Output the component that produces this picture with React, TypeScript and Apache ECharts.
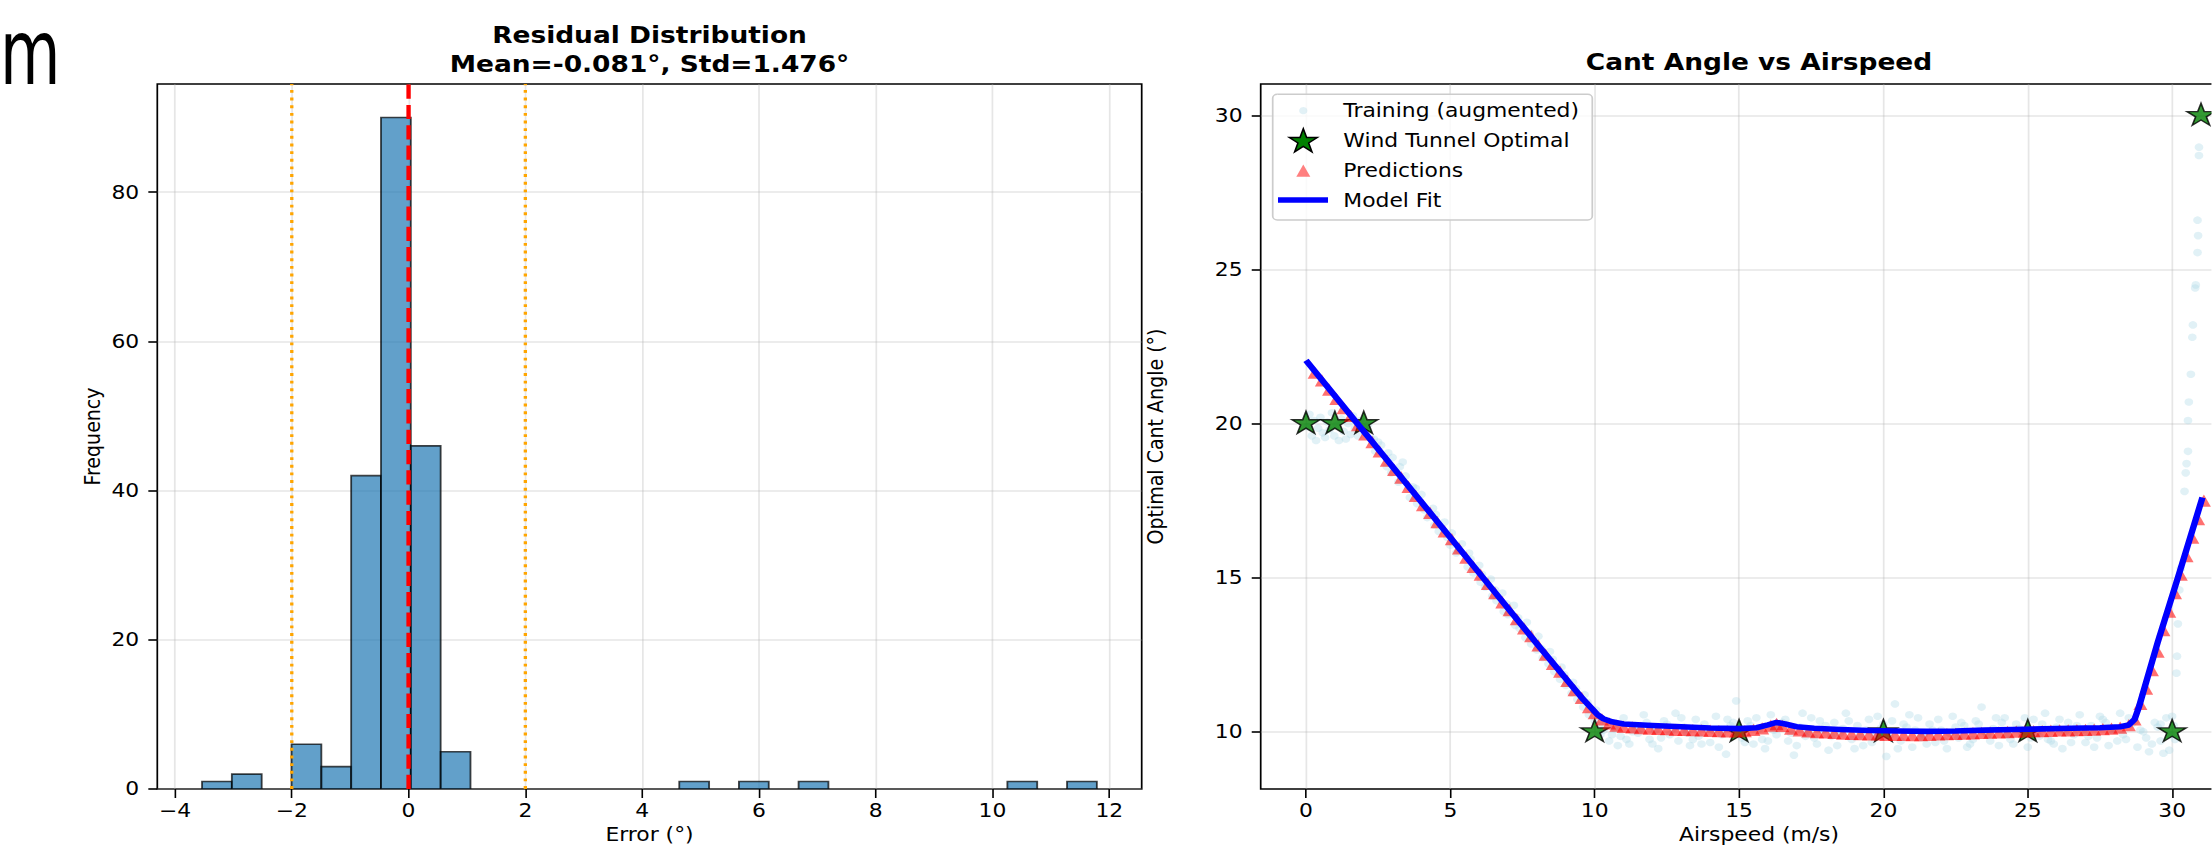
import React, { useEffect, useRef } from 'react';
import * as echarts from 'echarts';

// ---------- layout (reference is stretched horizontally) ----------
const SX = 1.15;
const W = 2212;
const H = 861;
const IW = W / SX;
const ix = (v: number) => v / SX;

// ---------- left panel: residual histogram ----------
const histBinStart = -3.537;
const histBinWidth = 0.5108;
const histCounts = [1, 2, 0, 6, 3, 42, 90, 46, 5, 0, 0, 0, 0, 0, 0, 0, 1, 0, 1, 0, 1, 0, 0, 0, 0, 0, 0, 1, 0, 1];
const histXTicks = [-4, -2, 0, 2, 4, 6, 8, 10, 12];
const histYTicks = [0, 20, 40, 60, 80];
const meanLineX = 0;
const bandLinesX = [-2, 2];
const histTitle = 'Residual Distribution\nMean=-0.081°, Std=1.476°';

// ---------- right panel: cant angle vs airspeed ----------
const trainPoints: [number, number][] = [
  [0.05, 19.9], [0.12, 20.3], [0.2, 19.6], [0.28, 20.1], [0.35, 19.45], [0.42, 19.85], [0.5, 20.2], [0.58, 19.7],
  [0.66, 19.55], [0.74, 20.05], [0.82, 19.8], [0.9, 20.35], [0.98, 19.6], [1.06, 19.95], [1.14, 19.45], [1.22, 20.15],
  [1.3, 19.75], [1.38, 19.5], [1.46, 20.0], [1.55, 19.65], [1.63, 20.25], [1.7, 19.85], [1.8, 19.6], [1.88, 20.1],
  [1.96, 19.9], [2.05, 19.7], [2.15, 19.95], [2.25, 19.5],
  [2.35, 19.5], [2.4, 19.1], [2.6, 19.3], [2.8, 18.6], [2.85, 19.05], [3.0, 18.9], [3.2, 18.1], [3.25, 18.6],
  [3.45, 18.3], [3.6, 17.6], [3.8, 17.9], [3.85, 17.4], [4.0, 17.7], [4.2, 16.95], [4.4, 17.25], [4.45, 16.7],
  [4.6, 16.5], [4.8, 16.8], [5.0, 16.05], [5.05, 16.45], [5.2, 15.8], [5.4, 16.1], [5.6, 15.35], [5.65, 15.8],
  [5.8, 15.15], [6.0, 15.4], [6.05, 14.85], [6.2, 14.7], [6.4, 14.95], [6.45, 14.4], [6.6, 14.25], [6.8, 14.5],
  [6.85, 13.9], [7.0, 13.8], [7.2, 14.1], [7.25, 13.45], [7.4, 13.35], [7.6, 13.05], [7.65, 13.55], [7.8, 12.85],
  [8.0, 12.65], [8.05, 13.1], [8.2, 12.4], [8.4, 12.2], [8.45, 12.6], [8.6, 11.95], [8.8, 11.7], [8.85, 12.1],
  [9.0, 11.5], [9.2, 11.25], [9.25, 11.6], [9.4, 11.05], [9.6, 10.8], [9.65, 11.2], [9.8, 10.55], [10.0, 10.35],
  [10.05, 10.7],
  [2.5, 19.4], [2.95, 18.4], [3.35, 18.75], [3.7, 17.95], [4.1, 17.2], [4.5, 17.05], [4.9, 16.3], [5.3, 15.9],
  [5.7, 15.6], [6.1, 15.1], [6.55, 14.6], [6.95, 14.15], [7.35, 13.7], [7.75, 13.2], [8.15, 12.7], [8.55, 12.35],
  [8.95, 11.85], [9.35, 11.4], [9.75, 10.95],
  [10.2, 9.9], [10.4, 10.3], [10.5, 9.7], [10.7, 10.1], [10.9, 9.85], [11.0, 10.45], [11.2, 9.6], [11.4, 10.2],
  [11.5, 9.95], [11.7, 10.55], [11.9, 9.75], [12.1, 10.05], [12.2, 9.45], [12.4, 10.35], [12.6, 9.9], [12.8, 10.6],
  [12.9, 9.7], [13.1, 10.15], [13.3, 9.55], [13.5, 10.4], [13.6, 9.85], [13.8, 10.25], [14.0, 9.65], [14.2, 10.5],
  [14.4, 9.9], [14.55, 9.27], [14.7, 10.2], [14.9, 11.0], [15.1, 9.8], [15.3, 10.35], [15.5, 9.6], [15.7, 10.1],
  [15.9, 9.45], [16.1, 10.55], [16.3, 9.9], [16.5, 10.3], [16.7, 9.7], [16.9, 9.24], [17.1, 10.15], [17.3, 9.85],
  [17.5, 10.45], [17.7, 9.6], [17.9, 10.05], [18.1, 9.4], [18.3, 10.3], [18.5, 9.95], [18.7, 10.6], [18.9, 9.75],
  [19.1, 10.2], [19.3, 9.55], [19.5, 10.4], [19.7, 9.85], [19.9, 10.1], [20.1, 9.2], [20.3, 10.35], [20.4, 10.9],
  [20.6, 9.7], [20.8, 10.15], [21.0, 9.5], [21.2, 10.45], [21.4, 9.9], [21.6, 10.25], [21.8, 9.65], [22.0, 10.05],
  [22.2, 9.45], [22.4, 10.5], [22.6, 9.8], [22.8, 10.2], [23.0, 9.6], [23.2, 10.35], [23.4, 10.8], [23.6, 9.9],
  [23.8, 10.1], [24.0, 9.55], [24.2, 10.45], [24.4, 9.75], [24.6, 10.25], [24.8, 9.95], [25.0, 9.5], [25.2, 10.4],
  [25.4, 9.85], [25.6, 10.6], [25.8, 9.7], [26.0, 10.15], [26.2, 9.45], [26.4, 10.3], [26.6, 9.9], [26.8, 10.55],
  [27.0, 9.65], [27.2, 10.2], [27.4, 9.8], [27.6, 10.4], [27.8, 9.55], [28.0, 10.1], [28.2, 10.6], [28.4, 9.75],
  [28.6, 10.25], [28.8, 9.5], [29.0, 10.0], [29.2, 9.35], [29.4, 10.3], [29.6, 9.7], [29.8, 10.45], [29.9, 9.4],
  [30.0, 10.5],
  [10.3, 10.05], [10.8, 9.55], [11.3, 10.0], [11.8, 10.3], [12.3, 9.8], [12.7, 10.1], [13.2, 9.95], [13.7, 9.6],
  [14.1, 10.05], [14.6, 10.4], [15.0, 9.9], [15.4, 10.2], [15.8, 9.75], [16.2, 10.05], [16.6, 10.4], [17.0, 9.55],
  [17.4, 10.0], [17.8, 10.35], [18.2, 9.85], [18.6, 10.1], [19.0, 9.45], [19.4, 10.05], [19.8, 10.5], [20.2, 9.85],
  [20.7, 10.25], [21.1, 10.05], [21.5, 9.6], [21.9, 10.4], [22.3, 9.95], [22.7, 10.3], [23.1, 9.75], [23.5, 10.0],
  [23.9, 10.45], [24.3, 9.9], [24.7, 10.1], [25.1, 9.8], [25.5, 10.25], [25.9, 9.6], [26.3, 10.0], [26.7, 10.2],
  [27.1, 9.85], [27.5, 10.5], [27.9, 10.05], [28.3, 9.9], [28.7, 10.35], [29.1, 9.8], [29.5, 10.15], [29.7, 9.3],
  [30.1, 9.75], [30.05, 10.2],
  [10.15, 10.2], [10.6, 9.9], [11.1, 9.75], [11.6, 10.1], [12.0, 9.6], [12.5, 10.25], [13.0, 10.45], [13.4, 9.75],
  [13.9, 10.1], [14.3, 9.5], [14.8, 10.3], [15.2, 9.65], [15.6, 10.45], [16.0, 9.7], [16.4, 10.15], [16.8, 9.95],
  [17.2, 10.6], [17.6, 9.8], [18.0, 10.2], [18.4, 9.55], [18.8, 10.35], [19.2, 9.9], [19.6, 9.65], [20.0, 10.25],
  [20.5, 9.45], [20.9, 10.55], [21.3, 9.8], [21.7, 10.05], [22.1, 9.7], [22.5, 10.15], [22.9, 9.5], [23.3, 10.25],
  [23.7, 9.7], [24.1, 10.3], [24.5, 9.6], [24.9, 10.45], [25.3, 9.95], [25.7, 9.75], [26.1, 10.4], [26.5, 9.65],
  [26.9, 10.05], [27.3, 9.5], [27.7, 10.3], [28.1, 9.7], [28.5, 10.45], [28.9, 10.05], [29.3, 9.6], [29.6, 10.25],
  [29.95, 9.9],
  [30.15, 11.9], [30.17, 12.45], [30.2, 13.5], [30.25, 14.6], [30.3, 15.3], [30.43, 17.8], [30.47, 18.4],
  [30.5, 18.7], [30.55, 19.1], [30.55, 20.1], [30.58, 20.7], [30.65, 21.6], [30.7, 22.8], [30.72, 23.2],
  [30.8, 24.4], [30.82, 24.5], [30.88, 25.55], [30.9, 26.1], [30.88, 26.6], [30.93, 28.7], [30.93, 28.97],
];

const tunnelX = [0, 1, 2, 10, 15, 20, 25, 30, 31];
const tunnelY = [20, 20, 20, 10, 10, 10, 10, 10, 30];

const predX = [
  0.3, 0.55, 0.8, 1.05, 1.3, 1.55, 1.8, 2.05, 2.3, 2.55, 2.8, 3.05, 3.3, 3.55, 3.8, 4.05, 4.3, 4.55, 4.8, 5.05,
  5.3, 5.55, 5.8, 6.05, 6.3, 6.55, 6.8, 7.05, 7.3, 7.55, 7.8, 8.05, 8.3, 8.55, 8.8, 9.05, 9.3, 9.55, 9.8, 10.0,
  10.25, 10.5, 10.75, 11.0, 11.3, 11.6, 11.9, 12.2, 12.5, 12.8, 13.1, 13.4, 13.7, 14.0, 14.3, 14.6, 14.9, 15.2,
  15.5, 15.8, 16.1, 16.3, 16.5, 16.8, 17.1, 17.4, 17.7, 18.0, 18.3, 18.6, 18.9, 19.2, 19.5, 19.8, 20.1, 20.4,
  20.7, 21.0, 21.3, 21.6, 21.9, 22.2, 22.5, 22.8, 23.1, 23.4, 23.7, 24.0, 24.3, 24.6, 24.9, 25.2, 25.5, 25.8,
  26.1, 26.4, 26.7, 27.0, 27.3, 27.6, 27.9, 28.2, 28.5, 28.7, 28.9, 29.1, 29.3, 29.5, 29.7, 29.9, 30.1, 30.3,
  30.5, 30.7, 30.9, 31.1,
];
const predY = [
  21.65, 21.4, 21.1, 20.8, 20.5, 20.25, 19.95, 19.65, 19.4, 19.1, 18.8, 18.5, 18.25, 17.95, 17.65, 17.35, 17.1,
  16.8, 16.5, 16.25, 15.95, 15.65, 15.35, 15.1, 14.8, 14.5, 14.2, 13.95, 13.65, 13.35, 13.1, 12.8, 12.5, 12.2,
  11.95, 11.65, 11.35, 11.1, 10.8, 10.6, 10.4, 10.27, 10.2, 10.16, 10.14, 10.12, 10.1, 10.09, 10.08, 10.06,
  10.06, 10.05, 10.04, 10.03, 10.02, 10.01, 10.01, 10.02, 10.06, 10.11, 10.2, 10.25, 10.19, 10.1, 10.04, 10.01,
  9.99, 9.98, 9.96, 9.94, 9.93, 9.92, 9.91, 9.91, 9.9, 9.9, 9.9, 9.89, 9.89, 9.9, 9.91, 9.92, 9.93, 9.94, 9.95,
  9.96, 9.97, 9.98, 9.99, 10.0, 10.01, 10.02, 10.02, 10.03, 10.04, 10.04, 10.05, 10.06, 10.07, 10.08, 10.1,
  10.13, 10.21, 10.4, 10.9, 11.4, 12.0, 12.6, 13.3, 13.9, 14.5, 15.1, 15.7, 16.3, 16.9, 17.5,
];

const fitX = [0, 2, 4, 6, 8, 9.6, 9.9, 10.1, 10.3, 10.6, 11.0, 12, 13, 14, 15, 15.6, 16.0, 16.3, 16.6, 17.0, 17.6,
  18.5, 19.5, 20.5, 21.5, 22.5, 23.5, 24.5, 25.5, 26.5, 27.5, 28.2, 28.5, 28.7, 28.85, 29.5, 30.2, 31.05];
const fitY = [22.05, 19.75, 17.45, 15.15, 12.85, 11.05, 10.75, 10.55, 10.42, 10.32, 10.25, 10.2, 10.16, 10.12,
  10.1, 10.13, 10.22, 10.3, 10.25, 10.16, 10.11, 10.07, 10.04, 10.02, 10.01, 10.02, 10.05, 10.07, 10.09, 10.11,
  10.13, 10.16, 10.22, 10.4, 10.8, 12.9, 15.0, 17.6];

const speedTicks = [0, 5, 10, 15, 20, 25, 30];
const angleTicks = [10, 15, 20, 25, 30];
const legendNames = ['Training (augmented)', 'Wind Tunnel Optimal', 'Predictions', 'Model Fit'];
const cornerFragment = 'm';

// ---------- styling ----------
const FONT = "'DejaVu Sans', 'Liberation Sans', sans-serif";
const STAR_PATH = 'path://M0,-100L22.45,-30.9L95.1,-30.9L36.33,11.8L58.8,80.9L0,38.2L-58.8,80.9L-36.33,11.8L-95.1,-30.9L-22.45,-30.9Z';

function starPoints(cx: number, cy: number, R: number): number[][] {
  const pts: number[][] = [];
  for (let k = 0; k < 10; k++) {
    const a = ((-90 + 36 * k) * Math.PI) / 180;
    const r = k % 2 === 0 ? R : 0.382 * R;
    pts.push([cx + r * Math.cos(a), cy + r * Math.sin(a)]);
  }
  return pts;
}

function buildOption(): any {
  const tickLabel = { color: '#000', fontSize: 19, fontFamily: FONT };
  const nameStyle = { color: '#000', fontSize: 19, fontFamily: FONT };
  const splitLine = { show: true, lineStyle: { color: 'rgba(176,176,176,0.32)', width: 1.5 } };
  const tickStyleX = { show: true, inside: false, length: 9, lineStyle: { color: '#000', width: 1.4 } };
  const tickStyleY = { show: true, inside: false, length: 7.8, lineStyle: { color: '#000', width: 1.6 } };
  const minus = (v: number) => String(v).replace('-', '\u2212');

  const histData = histCounts
    .map((c, i) => [histBinStart + i * histBinWidth, histBinStart + (i + 1) * histBinWidth, c])
    .filter((d) => d[2] > 0);

  const gridBase = { show: true, borderColor: '#000', borderWidth: 1.5, backgroundColor: 'transparent', containLabel: false, outerBoundsMode: 'none' };

  const legX = ix(1303.3);
  const legRows = [110.7, 140.5, 170.6, 200.1];
  const textX = ix(1343.3);

  const graphic: any[] = [
    {
      type: 'text', x: 0, y: 53, scaleX: 0.6, z: 100,
      style: { text: cornerFragment, fontSize: 90, fontFamily: FONT, fill: '#000', verticalAlign: 'middle', align: 'left' },
    },
    {
      type: 'rect', z: 100,
      shape: { x: ix(1272.7), y: 94.3, width: ix(1592.3 - 1272.7), height: 125.7, r: 4 },
      style: { fill: 'rgba(255,255,255,0.8)', stroke: '#cccccc', lineWidth: 1.5 },
    },
    { type: 'circle', z: 101, shape: { cx: legX, cy: legRows[0], r: 3.6 }, style: { fill: 'rgba(173,216,230,0.35)' } },
    {
      type: 'polygon', z: 101,
      shape: { points: starPoints(legX, legRows[1] + 1, 12.8) },
      style: { fill: '#008000', stroke: '#000', lineWidth: 1.4 },
    },
    {
      type: 'polygon', z: 101,
      shape: { points: [[legX, legRows[2] - 6.2], [legX - 6.1, legRows[2] + 6.2], [legX + 6.1, legRows[2] + 6.2]] },
      style: { fill: 'rgba(255,0,0,0.5)' },
    },
    {
      type: 'line', z: 101,
      shape: { x1: ix(1278), y1: legRows[3], x2: ix(1328), y2: legRows[3] },
      style: { stroke: '#0000ff', lineWidth: 5.5 },
    },
    ...legendNames.map((t, i) => ({
      type: 'text', z: 101, x: textX, y: legRows[i],
      style: { text: t, fontSize: 19, fontFamily: FONT, fill: '#000', verticalAlign: 'middle', align: 'left' },
    })),
  ];

  return {
    animation: false,
    backgroundColor: '#ffffff',
    title: [
      {
        text: histTitle, left: ix(649.5), top: 20.5, textAlign: 'center', padding: 0,
        textStyle: { fontSize: 23, fontWeight: 'bold', color: '#000', fontFamily: FONT, lineHeight: 29 },
      },
      {
        text: 'Cant Angle vs Airspeed', left: ix(1759), top: 47.5, textAlign: 'center', padding: 0,
        textStyle: { fontSize: 23, fontWeight: 'bold', color: '#000', fontFamily: FONT, lineHeight: 29 },
      },
    ],
    grid: [
      { ...gridBase, left: ix(157.3), top: 84, width: ix(1141.7 - 157.3), height: 705 },
      { ...gridBase, left: ix(1260.7), top: 84, width: ix(2257.3 - 1260.7), height: 705 },
    ],
    xAxis: [
      {
        type: 'value', gridIndex: 0, min: -4.303, max: 12.555,
        axisLine: { show: false, onZero: false },
        axisTick: { ...tickStyleX, customValues: histXTicks },
        axisLabel: { ...tickLabel, margin: 12, customValues: histXTicks, formatter: minus },
        splitLine,
        name: 'Error (°)', nameLocation: 'middle', nameGap: 36, nameTextStyle: nameStyle,
      },
      {
        type: 'value', gridIndex: 1, min: -1.569, max: 32.95,
        axisLine: { show: false, onZero: false },
        axisTick: { ...tickStyleX, customValues: speedTicks },
        axisLabel: { ...tickLabel, margin: 12, customValues: speedTicks },
        splitLine,
        name: 'Airspeed (m/s)', nameLocation: 'middle', nameGap: 36, nameTextStyle: nameStyle,
      },
    ],
    yAxis: [
      {
        type: 'value', gridIndex: 0, min: 0, max: 94.5,
        axisLine: { show: false, onZero: false },
        axisTick: { ...tickStyleY, customValues: histYTicks },
        axisLabel: { ...tickLabel, margin: 15.7, customValues: histYTicks },
        splitLine,
        name: 'Frequency', nameLocation: 'middle', nameGap: 47, nameTextStyle: nameStyle,
      },
      {
        type: 'value', gridIndex: 1, min: 8.14, max: 31.02,
        axisLine: { show: false, onZero: false },
        axisTick: { ...tickStyleY, customValues: angleTicks },
        axisLabel: { ...tickLabel, margin: 15.7, customValues: angleTicks },
        splitLine,
        name: 'Optimal Cant Angle (°)', nameLocation: 'middle', nameGap: 82, nameTextStyle: nameStyle,
      },
    ],
    graphic,
    series: [
      {
        type: 'custom', name: 'Residuals', xAxisIndex: 0, yAxisIndex: 0, clip: true,
        encode: { x: [0, 1], y: 2 },
        data: histData,
        renderItem: (_p: any, api: any) => {
          const a = api.coord([api.value(0), api.value(2)]);
          const b = api.coord([api.value(1), 0]);
          return {
            type: 'rect',
            shape: { x: a[0], y: a[1], width: b[0] - a[0], height: b[1] - a[1] },
            style: { fill: 'rgba(31,119,180,0.7)', stroke: 'rgba(0,0,0,0.72)', lineWidth: 1.6 },
          };
        },
      },
      {
        type: 'line', name: 'Zero', xAxisIndex: 0, yAxisIndex: 0, symbol: 'none', silent: true,
        data: [[meanLineX, 0], [meanLineX, 94.5]],
        lineStyle: { color: '#ff0000', width: 3.8, type: [14.2, 6.1], cap: 'butt' },
      },
      ...bandLinesX.map((bx) => ({
        type: 'line', name: 'Band ' + bx, xAxisIndex: 0, yAxisIndex: 0, symbol: 'none', silent: true,
        data: [[bx, 0], [bx, 94.5]],
        lineStyle: { color: '#ffa500', width: 2.9, type: [2.9, 4.75], cap: 'butt' },
      })),
      {
        type: 'scatter', name: legendNames[0], xAxisIndex: 1, yAxisIndex: 1,
        data: trainPoints, symbol: 'circle', symbolSize: 7.6,
        itemStyle: { color: 'rgba(173,216,230,0.45)' },
      },
      {
        type: 'scatter', name: legendNames[1], xAxisIndex: 1, yAxisIndex: 1,
        data: tunnelX.map((x, i) => [x, tunnelY[i]]),
        symbol: STAR_PATH, symbolKeepAspect: true, symbolSize: [24.4, 23.2], symbolOffset: [0, -1.2],
        itemStyle: { color: '#008000', borderColor: '#000', borderWidth: 1.4 },
      },
      {
        type: 'scatter', name: legendNames[2], xAxisIndex: 1, yAxisIndex: 1,
        data: predX.map((x, i) => [x, predY[i]]),
        symbol: 'triangle', symbolSize: [12.2, 12.3],
        itemStyle: { color: 'rgba(255,0,0,0.7)' },
      },
      {
        type: 'line', name: legendNames[3], xAxisIndex: 1, yAxisIndex: 1,
        data: fitX.map((x, i) => [x, fitY[i]]),
        symbol: 'none', smooth: false,
        lineStyle: { color: '#0000ff', width: 5.6, cap: 'butt', join: 'round' },
      },
    ],
  };
}

export default function App() {
  const ref = useRef<HTMLDivElement>(null);
  useEffect(() => {
    if (!ref.current) return;
    const chart = echarts.init(ref.current, undefined, { renderer: 'svg' });
    chart.setOption(buildOption());
    return () => chart.dispose();
  }, []);
  return (
    <div style={{ position: 'fixed', left: 0, top: 0, width: W, height: H, overflow: 'hidden', background: '#fff' }}>
      <div ref={ref} style={{ width: IW, height: H, transform: `scaleX(${SX})`, transformOrigin: '0 0' }} />
    </div>
  );
}
